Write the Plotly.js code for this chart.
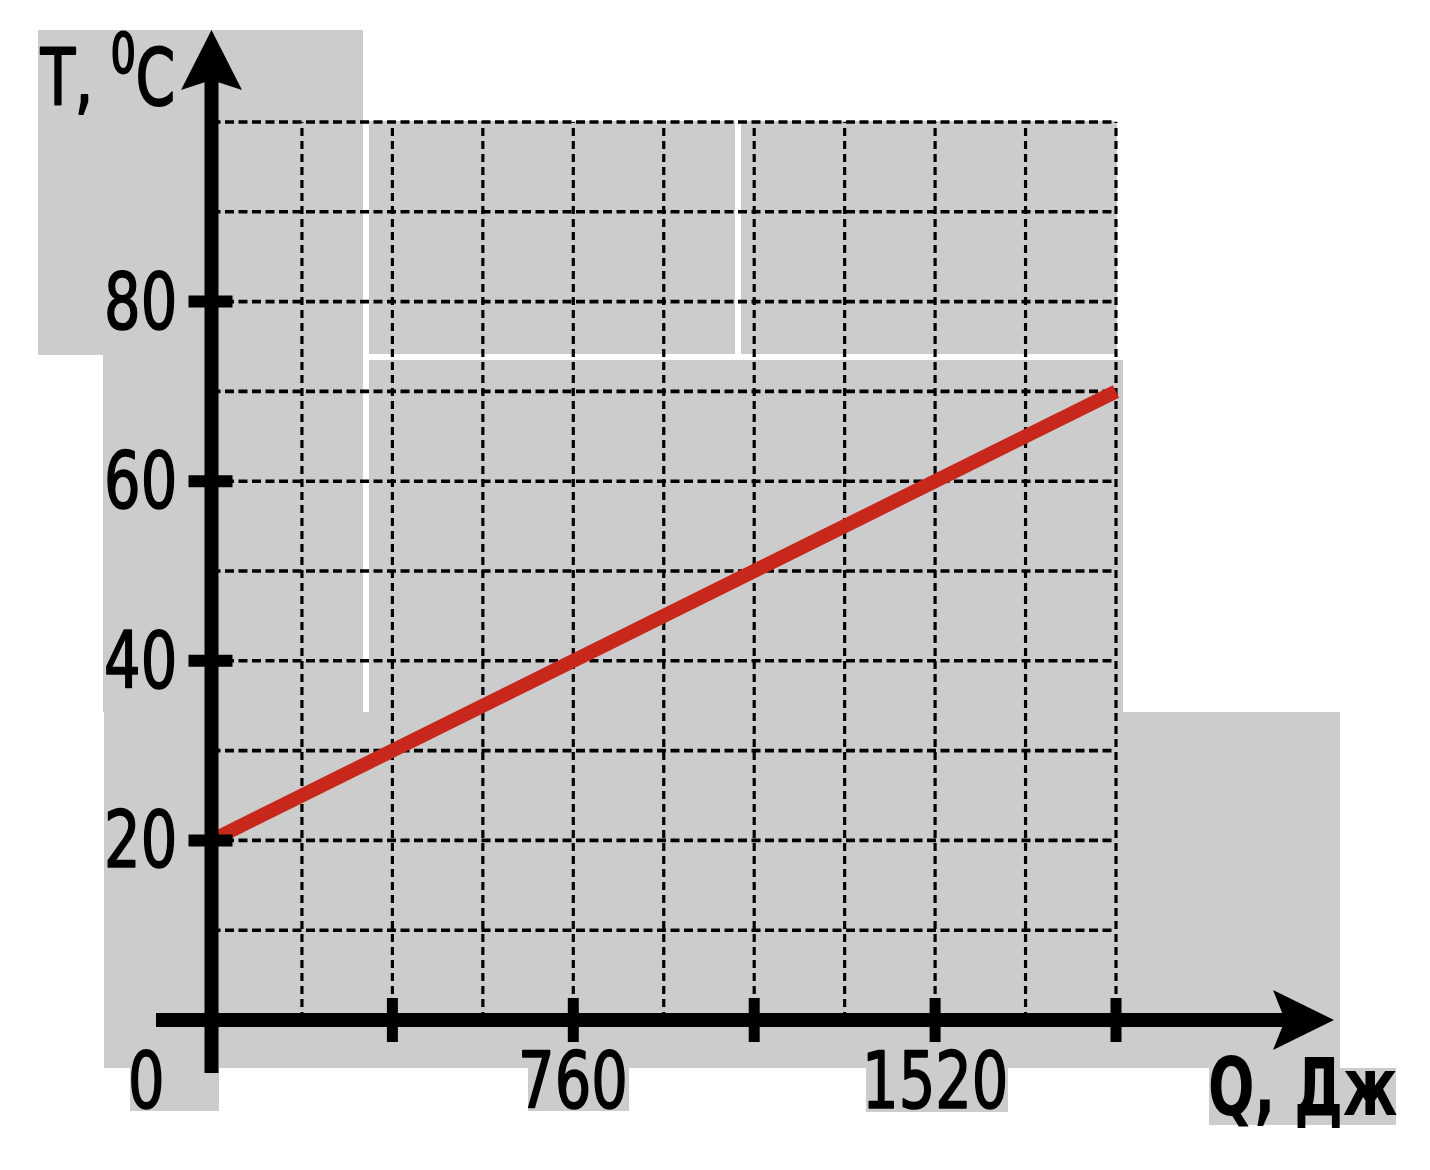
<!DOCTYPE html>
<html>
<head>
<meta charset="utf-8">
<script src="https://cdn.plot.ly/plotly-3.0.1.min.js"></script>
<style>
  html, body { margin: 0; padding: 0; background: #ffffff; }
  #chart { width: 1430px; height: 1170px; }
</style>
</head>
<body>
<div id="chart"></div>
<script>
// ---- data ----
const heatQ = [0, 1900];          // Q, J
const tempT = [20, 70];           // T, °C
const gridQ = [190, 380, 570, 760, 950, 1140, 1330, 1520, 1710, 1900];
const gridT = [10, 20, 30, 40, 50, 60, 70, 80, 90, 100];
const tickQ = [380, 760, 1140, 1520, 1900];
const tickT = [20, 40, 60, 80];
const labelQ = [760, 1520];
const labelQText = ['760', '1520'];
const labelT = [20, 40, 60, 80];
const labelTText = ['20', '40', '60', '80'];
const originText = '0';
const xTitle = 'Q, Дж';
const yTitle = 'T, <sup>0</sup>C';

// ---- page geometry ----
const W = 1430, H = 1170;
const ox = 211.5, oy = 1020;            // pixel of origin
const qEnd = 1900, qEndPx = 1116;       // pixel of last grid column
const tEnd = 100, tEndPx = 122;         // pixel of top grid row
const kx = (qEndPx - ox) / qEnd;
const ky = (oy - tEndPx) / tEnd;
const xRange = [(0 - ox) / kx, (W - ox) / kx];
const yRange = [(oy - H) / ky, (oy - 0) / ky];
const px = v => v / W;
const py = v => 1 - v / H;
const tOfPy = v => (oy - v) / ky;
const qOfPx = v => (v - ox) / kx;

const GRAY = '#cccccc';
const patches = [
  [38, 30, 363, 355],
  [369, 121, 735, 354],
  [741, 121, 1117, 354],
  [103, 355, 363, 712],
  [369, 360, 1123, 712],
  [104, 712, 1340, 1068],
  [130, 1068, 219, 1111],
  [528, 1068, 629, 1111],
  [866, 1068, 1008, 1112],
  [1209, 1068, 1396, 1125]
];

const shapes = [];
patches.forEach(p => shapes.push({
  type: 'rect', xref: 'paper', yref: 'paper',
  x0: px(p[0]), x1: px(p[2]), y0: py(p[1]), y1: py(p[3]),
  fillcolor: GRAY, line: { width: 0 }, layer: 'below'
}));

gridQ.forEach(q => shapes.push({
  type: 'line', xref: 'x', yref: 'y', x0: q, x1: q, y0: 0, y1: tEnd,
  line: { color: '#000000', width: 3.2, dash: '8px,5px' }, layer: 'below'
}));
gridT.forEach(t => shapes.push({
  type: 'line', xref: 'x', yref: 'y', x0: 0, x1: qEnd, y0: t, y1: t,
  line: { color: '#000000', width: 3.6, dash: '9px,4.5px' }, layer: 'below'
}));

// axes
shapes.push({
  type: 'line', xref: 'x', yref: 'y', x0: 0, x1: 0, y0: tOfPy(1073), y1: tOfPy(80),
  line: { color: '#000', width: 14 }, layer: 'above'
});
shapes.push({
  type: 'line', xref: 'x', yref: 'y', x0: qOfPx(156), x1: qOfPx(1285), y0: 0, y1: 0,
  line: { color: '#000', width: 14 }, layer: 'above'
});
// arrowheads
const P = (x, y) => px(x) + ',' + py(y);
shapes.push({
  type: 'path', xref: 'paper', yref: 'paper',
  path: 'M' + P(211.5, 30) + ' L' + P(242, 90) + ' L' + P(211.5, 80) + ' L' + P(181, 90) + ' Z',
  fillcolor: '#000', line: { width: 0 }, layer: 'above'
});
shapes.push({
  type: 'path', xref: 'paper', yref: 'paper',
  path: 'M' + P(1334, 1020) + ' L' + P(1273, 1050) + ' L' + P(1285, 1020) + ' L' + P(1273, 990) + ' Z',
  fillcolor: '#000', line: { width: 0 }, layer: 'above'
});
// ticks
tickQ.forEach(q => shapes.push({
  type: 'line', xref: 'x', yref: 'y', x0: q, x1: q,
  ysizemode: 'pixel', yanchor: 0, y0: -22, y1: 22,
  line: { color: '#000', width: 11 }, layer: 'above'
}));
tickT.forEach(t => shapes.push({
  type: 'line', xref: 'x', yref: 'y', y0: t, y1: t,
  xsizemode: 'pixel', xanchor: 0, x0: -23, x1: 21,
  line: { color: '#000', width: 12 }, layer: 'above'
}));

const FONT = '"Liberation Sans Narrow", "DejaVu Sans Condensed", "DejaVu Sans", sans-serif';
const annotations = [];
const squeeze = [];   // horizontal squeeze per annotation (the face is wider than the original one)
const thicken = [];   // extra outline width to match the heavier original strokes
labelT.forEach((t, i) => {
  annotations.push({
    xref: 'paper', yref: 'y', x: px(179), y: t, xanchor: 'right', yanchor: 'middle',
    text: labelTText[i], showarrow: false,
    font: { family: FONT, size: 78, color: '#000' }
  });
  squeeze.push(0.82); thicken.push(1.6);
});
labelQ.forEach((q, i) => {
  annotations.push({
    xref: 'x', yref: 'paper', x: q, y: py(1081), xanchor: 'center', yanchor: 'middle',
    text: labelQText[i], showarrow: false,
    font: { family: FONT, size: 78, color: '#000' }
  });
  squeeze.push(0.82); thicken.push(1.6);
});
annotations.push({
  xref: 'paper', yref: 'paper', x: px(146), y: py(1081), xanchor: 'center', yanchor: 'middle',
  text: originText, showarrow: false,
  font: { family: FONT, size: 78, color: '#000' }
});
squeeze.push(0.82); thicken.push(1.6);
annotations.push({
  xref: 'paper', yref: 'paper', x: px(1302), y: py(1087), xanchor: 'center', yanchor: 'middle',
  text: '<b>' + xTitle + '</b>', showarrow: false,
  font: { family: FONT, size: 80, color: '#000' }
});
squeeze.push(0.76); thicken.push(0);
annotations.push({
  xref: 'paper', yref: 'paper', x: px(38), y: py(72), xanchor: 'left', yanchor: 'middle',
  text: yTitle, showarrow: false,
  font: { family: FONT, size: 78, color: '#000' }
});
squeeze.push(0.8); thicken.push(2.2);

const traces = [{
  type: 'scatter', mode: 'lines', x: heatQ, y: tempT,
  line: { color: '#c8281c', width: 14 }, hoverinfo: 'skip', showlegend: false
}];

const layout = {
  width: W, height: H,
  margin: { l: 0, r: 0, t: 0, b: 0, pad: 0 },
  paper_bgcolor: '#ffffff', plot_bgcolor: 'rgba(0,0,0,0)',
  xaxis: { range: xRange, visible: false, fixedrange: true },
  yaxis: { range: yRange, visible: false, fixedrange: true },
  shapes: shapes, annotations: annotations, showlegend: false
};

Plotly.newPlot('chart', traces, layout, { displayModeBar: false, staticPlot: true }).then(gd => {
  const groups = gd.querySelectorAll('g.annotation');
  groups.forEach(g => {
    const idx = +g.getAttribute('data-index');
    const s = squeeze[idx];
    const ann = annotations[idx];
    const txt = g.querySelector('text.annotation-text');
    if (!txt || !s) return;
    const bb = txt.getBBox();
    let ax = bb.x + bb.width / 2;
    if (ann.xanchor === 'right') ax = bb.x + bb.width;
    if (ann.xanchor === 'left') ax = bb.x;
    const prev = txt.getAttribute('transform') || '';
    txt.setAttribute('transform',
      'translate(' + ax + ',0) scale(' + s + ',1) translate(' + (-ax) + ',0) ' + prev);
    if (thicken[idx]) {
      txt.style.stroke = '#000';
      txt.style.strokeWidth = thicken[idx] + 'px';
      txt.style.strokeLinejoin = 'round';
    }
  });
});
</script>
</body>
</html>
